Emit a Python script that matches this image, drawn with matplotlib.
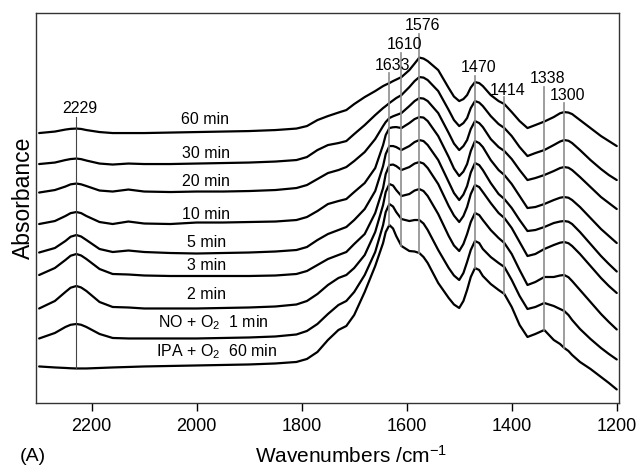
import numpy as np
import matplotlib
matplotlib.use('Agg')
import matplotlib.pyplot as plt

# IR spectra, stacked as in the figure (arbitrary absorbance units)
wavenumber = [2300, 2270, 2250, 2240, 2229, 2220, 2210, 2185, 2160, 2130,
              2100, 2050, 2000, 1950, 1900, 1850, 1810, 1790, 1770, 1750,
              1730, 1715, 1700, 1680, 1660, 1645, 1640, 1633, 1626, 1620,
              1610, 1595, 1585, 1576, 1568, 1560, 1540, 1520, 1510, 1500,
              1492, 1485, 1478, 1470, 1462, 1455, 1440, 1425, 1414, 1400,
              1385, 1370, 1355, 1338, 1320, 1308, 1300, 1292, 1285, 1270,
              1250, 1230, 1215, 1200]

spec_60min = [270, 271.5, 273.5, 274.2, 274.5, 274.1, 273, 271, 270, 270,
              270, 270.5, 271, 271.5, 272, 273, 274.5, 277, 283, 287,
              290.5, 293, 299, 306, 312, 317, 318.3, 320, 322, 323.5,
              326, 333, 339.5, 345.5, 344.5, 342, 333, 315, 306.5, 302,
              304, 308, 315.5, 321, 320, 317, 308, 302, 299, 291,
              282, 275, 278, 281.5, 286, 289.8, 291, 290.5, 289, 283,
              275, 267, 262, 257]
spec_30min = [239, 240.5, 243, 244, 244.5, 243.9, 242.5, 239.5, 238.5, 239.5,
              239, 239, 239.5, 240, 240.5, 241.5, 243, 246, 253, 258,
              260, 262, 269, 278, 288, 295, 297, 300, 302.7, 305,
              308, 316, 322, 326, 325.5, 323, 312, 293, 283, 277,
              280, 285, 295, 302, 300.5, 297, 287, 279, 275, 267,
              256, 247, 250, 253, 258, 261.5, 263, 262.3, 260, 253,
              243, 234, 228, 223]
spec_20min = [210.5, 213, 216.5, 218.7, 219.5, 218.7, 217, 212.5, 211.5, 213.5,
              211.5, 211, 211.5, 211.5, 212, 213, 215, 218, 224, 230,
              233, 236, 242, 251, 264, 277, 281, 285, 286.8, 288,
              290, 297, 302, 305, 304.5, 302, 290, 270, 259.5, 253,
              257, 263, 274, 282, 280, 276, 264, 256, 252, 244,
              233, 223, 225, 228, 232, 235, 236, 235.3, 233, 226,
              216, 206, 200, 194]
spec_10min = [179, 182, 187, 189.9, 191, 189.9, 187, 181, 179, 181.5,
              179.5, 179, 180.5, 180.5, 181, 181.5, 183, 186, 192, 199,
              202, 204, 211, 220, 235, 258, 268, 275, 275.8, 276,
              275, 280, 284, 286, 285.5, 282, 267, 246, 234.5, 227,
              231.5, 239, 252, 262, 260, 256, 243, 233, 228, 219,
              207, 195, 196, 199, 203, 205.3, 206, 205.3, 203, 196,
              185, 174, 167, 160]
spec_5min = [150.5, 155, 162, 166.3, 168, 166.5, 163, 154, 151, 152.5,
             151, 150, 149.5, 150, 150.5, 151.5, 153, 156, 163, 169,
             173, 176, 183, 194, 212, 237, 249, 257, 257, 256,
             253, 257, 261, 263, 262, 258, 243, 221, 210, 203,
             208.5, 217, 230.5, 240, 238, 233, 220, 209, 204, 195,
             183, 172, 173, 176, 180, 181.5, 182, 181.3, 179, 171,
             159, 147, 139, 131.5]
spec_3min = [128, 135, 143, 147.3, 149, 147.5, 144, 134, 129, 128.5,
             127.5, 127, 127, 127, 127, 127.5, 129, 132, 138, 144,
             148, 151, 159, 169, 190, 215, 229, 238, 238.5, 237,
             233, 236, 239.5, 241, 239.5, 235, 219, 197, 187.5, 181,
             187, 196, 209, 218, 216, 211, 200, 190, 185, 175,
             161, 147, 149, 154, 158, 160.3, 161, 159.8, 157, 149,
             137, 125, 117, 110]
spec_2min = [94.5, 102, 111, 115.3, 117, 115.5, 112, 101, 96, 95.5,
             94.5, 94.5, 94.5, 95, 95.5, 96.5, 98.5, 102, 109, 118,
             125, 128, 135, 148, 171, 198, 211, 219, 217.5, 213,
             207, 209, 212.5, 214, 212, 207, 189, 167, 157.5, 152,
             159, 169, 181, 190, 188, 183, 173, 165, 160, 149,
             133, 118, 121, 126, 126, 127.5, 128, 125.8, 122, 113,
             101, 89, 81, 73.5]
spec_1min = [64.5, 70, 76, 78.2, 79, 78.2, 76, 69, 65, 64.5,
             64.5, 64.5, 64.5, 65, 65.5, 66.5, 68.5, 72, 79, 89,
             98, 102, 111, 128, 151, 178, 191, 199, 196.5, 191,
             184, 182, 183, 183, 179.5, 173, 153, 135, 127.5, 123,
             130, 141, 153, 162, 160, 154, 146, 140, 136, 123,
             107, 94, 96, 100, 97, 94, 92, 88, 83, 74,
             64, 55, 49, 43.5]
spec_ipa = [36.5, 35.5, 35, 34.7, 34.5, 34.5, 34.5, 35, 35.5, 36,
            36.5, 37, 37.5, 38, 38.5, 39.5, 41, 44, 51, 63,
            73, 77, 88, 111, 137, 160, 171, 178, 174.5, 167,
            157, 152, 151.5, 150, 146, 140, 120, 105, 98.5, 95,
            102, 113, 126, 135, 133, 127, 119, 113, 109, 96,
            78, 66, 69, 73, 63, 59, 55, 52, 48, 41,
            34, 26, 20, 13.5]

curve_labels = ['60 min', '30 min', '20 min', '10 min', '5 min', '3 min',
                '2 min', r'NO + O$\mathregular{_2}$  1 min',
                r'IPA + O$\mathregular{_2}$  60 min']
peak_positions = [2229, 1633, 1610, 1576, 1470, 1414, 1338, 1300]
x_ticks = [2200, 2000, 1800, 1600, 1400, 1200]


def drawgraph():
    plt.rcParams['font.family'] = ['Liberation Sans', 'DejaVu Sans']
    plt.rcParams['mathtext.fontset'] = 'custom'
    plt.rcParams['mathtext.rm'] = 'Liberation Sans'

    fig = plt.figure(figsize=(6.37, 4.68), dpi=100)
    ax = fig.add_axes([0.0565, 0.139, 0.915, 0.833])

    spectra = [spec_60min, spec_30min, spec_20min, spec_10min, spec_5min,
               spec_3min, spec_2min, spec_1min, spec_ipa]
    for s in spectra:
        ax.plot(wavenumber, s, color='black', lw=1.6,
                solid_joinstyle='round', solid_capstyle='round')

    # labels above each trace
    label_x = [1984, 1982, 1982, 1982, 1982, 1982, 1982, 1969, 1963]
    label_y = [284, 250, 222, 189, 161, 138, 108, 80, 51.5]
    for lab, lx, ly in zip(curve_labels, label_x, label_y):
        ax.text(lx, ly, lab, fontsize=11.5, ha='center', va='center')

    # peak marker lines, down to the bottom trace
    line_top = [286, 330, 350, 369, 327, 306, 316, 300]
    text_y = [295, 338, 359, 378, 336, 313, 325, 308]
    wn_rev = wavenumber[::-1]
    ipa_rev = spec_ipa[::-1]
    for p, top, ty in zip(peak_positions, line_top, text_y):
        bottom = np.interp(p, wn_rev, ipa_rev)
        if p == 2229:
            ax.plot([p, p], [bottom, top], color='#444444', lw=0.8)
        else:
            ax.plot([p, p], [bottom, top], color='#8c8c8c', lw=1.2)
        ax.text(p - 6, ty, str(p), fontsize=11.5, ha='center', va='center')

    ax.set_xlim(2306, 1196)
    ax.set_ylim(0, 390)
    ax.set_xticks(x_ticks)
    ax.set_yticks([])
    ax.tick_params(axis='x', direction='out', length=6, width=1,
                   labelsize=13, pad=5)
    for sp in ax.spines.values():
        sp.set_color('#333333')
        sp.set_linewidth(1.0)

    ax.text(0.54, -0.136, r'Wavenumbers /cm$\mathregular{^{-1}}$',
            transform=ax.transAxes, fontsize=15, ha='center', va='center')
    ax.text(-0.021, 0.527, 'Absorbance', transform=ax.transAxes,
            fontsize=16.5, rotation=90, ha='center', va='center')
    fig.text(0.052, 0.025, '(A)', fontsize=14, ha='center', va='center')

    plt.savefig('out.png', dpi=100)


if __name__ == '__main__':
    drawgraph()
